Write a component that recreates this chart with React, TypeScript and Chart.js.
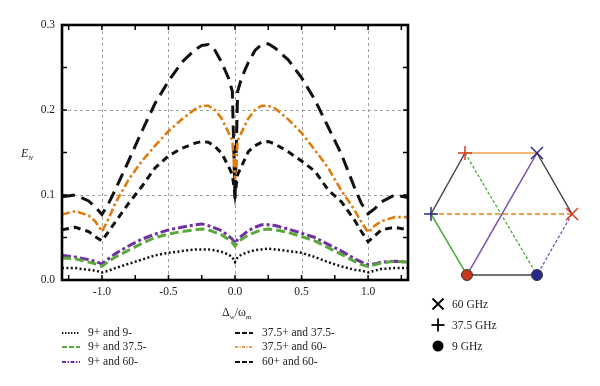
import React, { useEffect, useRef } from "react";
import { Chart, registerables } from "chart.js";

Chart.register(...registerables);

const xValues = [-1.3, -1.2, -1.1, -1.05, -1.0, -0.95, -0.9, -0.8, -0.7, -0.6, -0.5, -0.4, -0.3, -0.25, -0.2, -0.15, -0.1, -0.05, -0.02, 0,
  0.02, 0.05, 0.1, 0.15, 0.2, 0.25, 0.3, 0.4, 0.5, 0.6, 0.7, 0.8, 0.9, 0.95, 1.0, 1.05, 1.1, 1.2, 1.3];

const s9p9m = [0.014, 0.014, 0.012, 0.011, 0.009, 0.011, 0.014, 0.019, 0.024, 0.029, 0.032, 0.034, 0.036, 0.036, 0.036, 0.035, 0.033, 0.03, 0.027, 0.021,
  0.027, 0.03, 0.033, 0.035, 0.036, 0.037, 0.036, 0.034, 0.032, 0.027, 0.021, 0.016, 0.012, 0.011, 0.009, 0.011, 0.013, 0.014, 0.014];
const s9p375m = [0.026, 0.025, 0.021, 0.019, 0.016, 0.022, 0.027, 0.035, 0.043, 0.05, 0.054, 0.057, 0.059, 0.06, 0.059, 0.056, 0.053, 0.048, 0.044, 0.04,
  0.044, 0.048, 0.053, 0.056, 0.059, 0.06, 0.059, 0.056, 0.051, 0.046, 0.038, 0.03, 0.022, 0.018, 0.016, 0.018, 0.02, 0.022, 0.021];
const s9p60m = [0.029, 0.027, 0.024, 0.022, 0.019, 0.025, 0.031, 0.04, 0.048, 0.054, 0.059, 0.062, 0.065, 0.066, 0.064, 0.061, 0.058, 0.052, 0.048, 0.043,
  0.048, 0.052, 0.058, 0.062, 0.065, 0.065, 0.064, 0.06, 0.055, 0.05, 0.042, 0.034, 0.025, 0.021, 0.018, 0.019, 0.021, 0.022, 0.021];
const s375p375m = [0.059, 0.062, 0.057, 0.051, 0.046, 0.057, 0.068, 0.09, 0.11, 0.132, 0.146, 0.155, 0.161, 0.163, 0.162, 0.157, 0.149, 0.134, 0.124, 0.1,
  0.124, 0.134, 0.151, 0.158, 0.162, 0.163, 0.16, 0.151, 0.14, 0.128, 0.106, 0.092, 0.07, 0.057, 0.045, 0.052, 0.059, 0.062, 0.059];
const s375p60m = [0.077, 0.081, 0.076, 0.069, 0.057, 0.072, 0.09, 0.118, 0.14, 0.158, 0.175, 0.189, 0.201, 0.205, 0.205, 0.2, 0.19, 0.174, 0.164, 0.118,
  0.164, 0.174, 0.19, 0.2, 0.205, 0.205, 0.202, 0.189, 0.173, 0.153, 0.132, 0.105, 0.082, 0.068, 0.056, 0.064, 0.069, 0.074, 0.074];
const s60p60m = [0.098, 0.1, 0.093, 0.086, 0.077, 0.09, 0.106, 0.14, 0.175, 0.208, 0.234, 0.256, 0.271, 0.276, 0.277, 0.27, 0.256, 0.238, 0.222, 0.095,
  0.222, 0.238, 0.256, 0.27, 0.277, 0.278, 0.273, 0.259, 0.238, 0.212, 0.18, 0.148, 0.108, 0.09, 0.078, 0.084, 0.092, 0.1, 0.097];

const xTickValues = [-1.0, -0.5, 0.0, 0.5, 1.0];
const yTickValues = [0.0, 0.1, 0.2, 0.3];
const xMinorTicks = [-1.25, -1.0, -0.75, -0.5, -0.25, 0, 0.25, 0.5, 0.75, 1.0, 1.25];
const yMinorTicks = [0.05, 0.1, 0.15, 0.2, 0.25];

const seriesLabels = ["9+ and 9-", "9+ and 37.5-", "9+ and 60-", "37.5+ and 37.5-", "37.5+ and 60-", "60+ and 60-"];
const seriesColors = ["#111111", "#5aa83c", "#7030a0", "#111111", "#e07b10", "#111111"];
const seriesDashes = [[2, 2.4], [9, 4], [9, 3, 3, 3], [7, 5], [8, 3, 2.5, 3], [13, 7]];
const seriesWidths = [2.5, 3, 3, 3, 2.6, 3];
const seriesValues = [s9p9m, s9p375m, s9p60m, s375p375m, s375p60m, s60p60m];

const SERIF = "'Liberation Serif', 'DejaVu Serif', serif";

const framePlugin = {
  id: "frame",
  beforeDatasetsDraw(chart: any) {
    const { ctx, chartArea: a, scales } = chart;
    const xs = scales.x, ys = scales.y;
    ctx.save();
    ctx.strokeStyle = "#a0a0a0";
    ctx.lineWidth = 1;
    ctx.setLineDash([3, 3]);
    xTickValues.forEach((v) => {
      const px = Math.round(xs.getPixelForValue(v)) + 0.5;
      ctx.beginPath(); ctx.moveTo(px, a.top); ctx.lineTo(px, a.bottom); ctx.stroke();
    });
    [0.1, 0.2].forEach((v) => {
      const py = Math.round(ys.getPixelForValue(v)) + 0.5;
      ctx.beginPath(); ctx.moveTo(a.left, py); ctx.lineTo(a.right, py); ctx.stroke();
    });
    ctx.restore();
  },
  afterDatasetsDraw(chart: any) {
    const { ctx, chartArea: a, scales } = chart;
    const xs = scales.x, ys = scales.y;
    ctx.save();
    ctx.strokeStyle = "#000";
    ctx.setLineDash([]);
    ctx.lineWidth = 1.5;
    xMinorTicks.forEach((v) => {
      const px = xs.getPixelForValue(v);
      ctx.beginPath(); ctx.moveTo(px, a.bottom); ctx.lineTo(px, a.bottom - 5); ctx.stroke();
      ctx.beginPath(); ctx.moveTo(px, a.top); ctx.lineTo(px, a.top + 5); ctx.stroke();
    });
    yMinorTicks.forEach((v) => {
      const py = ys.getPixelForValue(v);
      ctx.beginPath(); ctx.moveTo(a.left, py); ctx.lineTo(a.left + 5, py); ctx.stroke();
      ctx.beginPath(); ctx.moveTo(a.right, py); ctx.lineTo(a.right - 5, py); ctx.stroke();
    });
    ctx.lineWidth = 2.6;
    ctx.strokeRect(a.left, a.top, a.right - a.left, a.bottom - a.top);
    ctx.restore();
  },
};

function LegendSample({ color, dash, width }: { color: string; dash: string; width: number }) {
  return (
    <svg width={20} height={6} style={{ display: "block" }}>
      <line x1={1} y1={3} x2={19} y2={3} stroke={color} strokeWidth={width} strokeDasharray={dash} />
    </svg>
  );
}

const legendDashes = ["1.4,1.6", "5,2", "4,1.5,1.5,1.5", "5,2", "3,1.5,1,1.5", "5,2"];
const legendWidths = [2, 2, 2, 2.2, 1.6, 2.2];

function Cross({ x, y, r, color, w }: { x: number; y: number; r: number; color: string; w: number }) {
  return (
    <g stroke={color} strokeWidth={w}>
      <line x1={x - r} y1={y - r} x2={x + r} y2={y + r} />
      <line x1={x - r} y1={y + r} x2={x + r} y2={y - r} />
    </g>
  );
}
function Plus({ x, y, r, color, w }: { x: number; y: number; r: number; color: string; w: number }) {
  return (
    <g stroke={color} strokeWidth={w}>
      <line x1={x - r} y1={y} x2={x + r} y2={y} />
      <line x1={x} y1={y - r} x2={x} y2={y + r} />
    </g>
  );
}

export default function App() {
  const canvasRef = useRef<HTMLCanvasElement | null>(null);

  useEffect(() => {
    if (!canvasRef.current) return;
    const datasets = seriesValues.map((vals, i) => ({
      label: seriesLabels[i],
      data: xValues.map((x, j) => ({ x, y: vals[j] })),
      borderColor: seriesColors[i],
      backgroundColor: seriesColors[i],
      borderDash: seriesDashes[i],
      borderWidth: seriesWidths[i],
      borderCapStyle: "butt" as const,
      pointRadius: 0,
      tension: 0,
      fill: false,
    }));
    const chart = new Chart(canvasRef.current, {
      type: "line",
      data: { datasets },
      options: {
        animation: false,
        responsive: false,
        layout: { padding: { left: 0, right: 192, top: 25, bottom: 86 } },
        plugins: { legend: { display: false }, tooltip: { enabled: false } },
        scales: {
          x: {
            type: "linear",
            min: -1.3,
            max: 1.3,
            grid: { display: false, drawTicks: false },
            border: { display: false },
            afterBuildTicks: (s: any) => { s.ticks = xTickValues.map((v) => ({ value: v })); },
            afterFit: (s: any) => { s.height = 20; },
            ticks: {
              padding: 5,
              maxRotation: 0,
              color: "#222",
              font: { family: SERIF, size: 11.5 },
              callback: (v: any) => Number(v).toFixed(1),
            },
          },
          y: {
            type: "linear",
            min: 0,
            max: 0.3,
            grid: { display: false, drawTicks: false },
            border: { display: false },
            afterBuildTicks: (s: any) => { s.ticks = yTickValues.map((v) => ({ value: v })); },
            afterFit: (s: any) => { s.width = 62; },
            ticks: {
              padding: 7,
              color: "#222",
              font: { family: SERIF, size: 11.5 },
              callback: (v: any) => Number(v).toFixed(1),
            },
          },
        },
      },
      plugins: [framePlugin],
    });
    return () => chart.destroy();
  }, []);

  const textStyle: React.CSSProperties = { position: "absolute", fontFamily: SERIF, fontSize: 11.5, color: "#222", whiteSpace: "nowrap", lineHeight: "14px" };
  const rows = [333, 347, 362];

  return (
    <div style={{ position: "absolute", left: 0, top: 0, width: 600, height: 386, background: "#fff", overflow: "hidden" }}>
      <canvas ref={canvasRef} width={600} height={386} style={{ position: "absolute", left: 0, top: 0, width: 600, height: 386 }} />
      <div style={{ ...textStyle, left: 21, top: 146, fontSize: 12 }}>
        <i>E</i><sub style={{ fontSize: 7, fontStyle: "italic" }}>N</sub>
      </div>
      <div style={{ ...textStyle, left: 222, top: 305, fontSize: 12 }}>
        Δ<sub style={{ fontSize: 7 }}>w</sub>/ω<sub style={{ fontSize: 7 }}>m</sub>
      </div>
      {seriesLabels.map((lab, i) => {
        const col = i < 3 ? 0 : 1;
        const row = i % 3;
        const sx = col === 0 ? 61 : 234;
        const tx = col === 0 ? 88 : 262;
        return (
          <React.Fragment key={lab}>
            <div style={{ position: "absolute", left: sx, top: rows[row] - 3 }}>
              <LegendSample color={seriesColors[i]} dash={legendDashes[i]} width={legendWidths[i]} />
            </div>
            <div style={{ ...textStyle, left: tx, top: rows[row] - 8 }}>{lab}</div>
          </React.Fragment>
        );
      })}
      <svg width={600} height={386} style={{ position: "absolute", left: 0, top: 0 }}>
        <line x1={465} y1={153} x2={537} y2={153} stroke="#f0a050" strokeWidth={1.5} />
        <line x1={537} y1={153} x2={572} y2={214} stroke="#444" strokeWidth={1.5} />
        <line x1={572} y1={214} x2={537} y2={275} stroke="#7a4fb0" strokeWidth={1.3} strokeDasharray="3,2" />
        <line x1={537} y1={275} x2={467} y2={275} stroke="#444" strokeWidth={1.5} />
        <line x1={467} y1={275} x2={431} y2={214} stroke="#4caa3a" strokeWidth={1.5} />
        <line x1={431} y1={214} x2={465} y2={153} stroke="#444" strokeWidth={1.5} />
        <line x1={465} y1={153} x2={537} y2={275} stroke="#4caa3a" strokeWidth={1.3} strokeDasharray="3,2" />
        <line x1={431} y1={214} x2={572} y2={214} stroke="#f0a050" strokeWidth={1.8} strokeDasharray="5,3" />
        <line x1={467} y1={275} x2={537} y2={153} stroke="#7a4fb0" strokeWidth={1.5} />
        <Plus x={465} y={153} r={7} color="#d83a20" w={1.5} />
        <Cross x={537} y={153} r={6} color="#2b2a8a" w={1.5} />
        <Cross x={572} y={214} r={6} color="#d83a20" w={1.5} />
        <Plus x={431} y={214} r={7} color="#2b2a8a" w={1.5} />
        <circle cx={467} cy={275} r={5.5} fill="#c8361c" stroke="#333" strokeWidth={1} />
        <circle cx={537} cy={275} r={5.5} fill="#2b2a8a" stroke="#333" strokeWidth={1} />
        <Cross x={438} y={304} r={5.5} color="#000" w={1.8} />
        <Plus x={438} y={325} r={6.5} color="#000" w={1.8} />
        <circle cx={438} cy={346} r={5.5} fill="#000" />
      </svg>
      <div style={{ ...textStyle, left: 452, top: 297 }}>60 GHz</div>
      <div style={{ ...textStyle, left: 452, top: 318 }}>37.5 GHz</div>
      <div style={{ ...textStyle, left: 452, top: 339 }}>9 GHz</div>
    </div>
  );
}
